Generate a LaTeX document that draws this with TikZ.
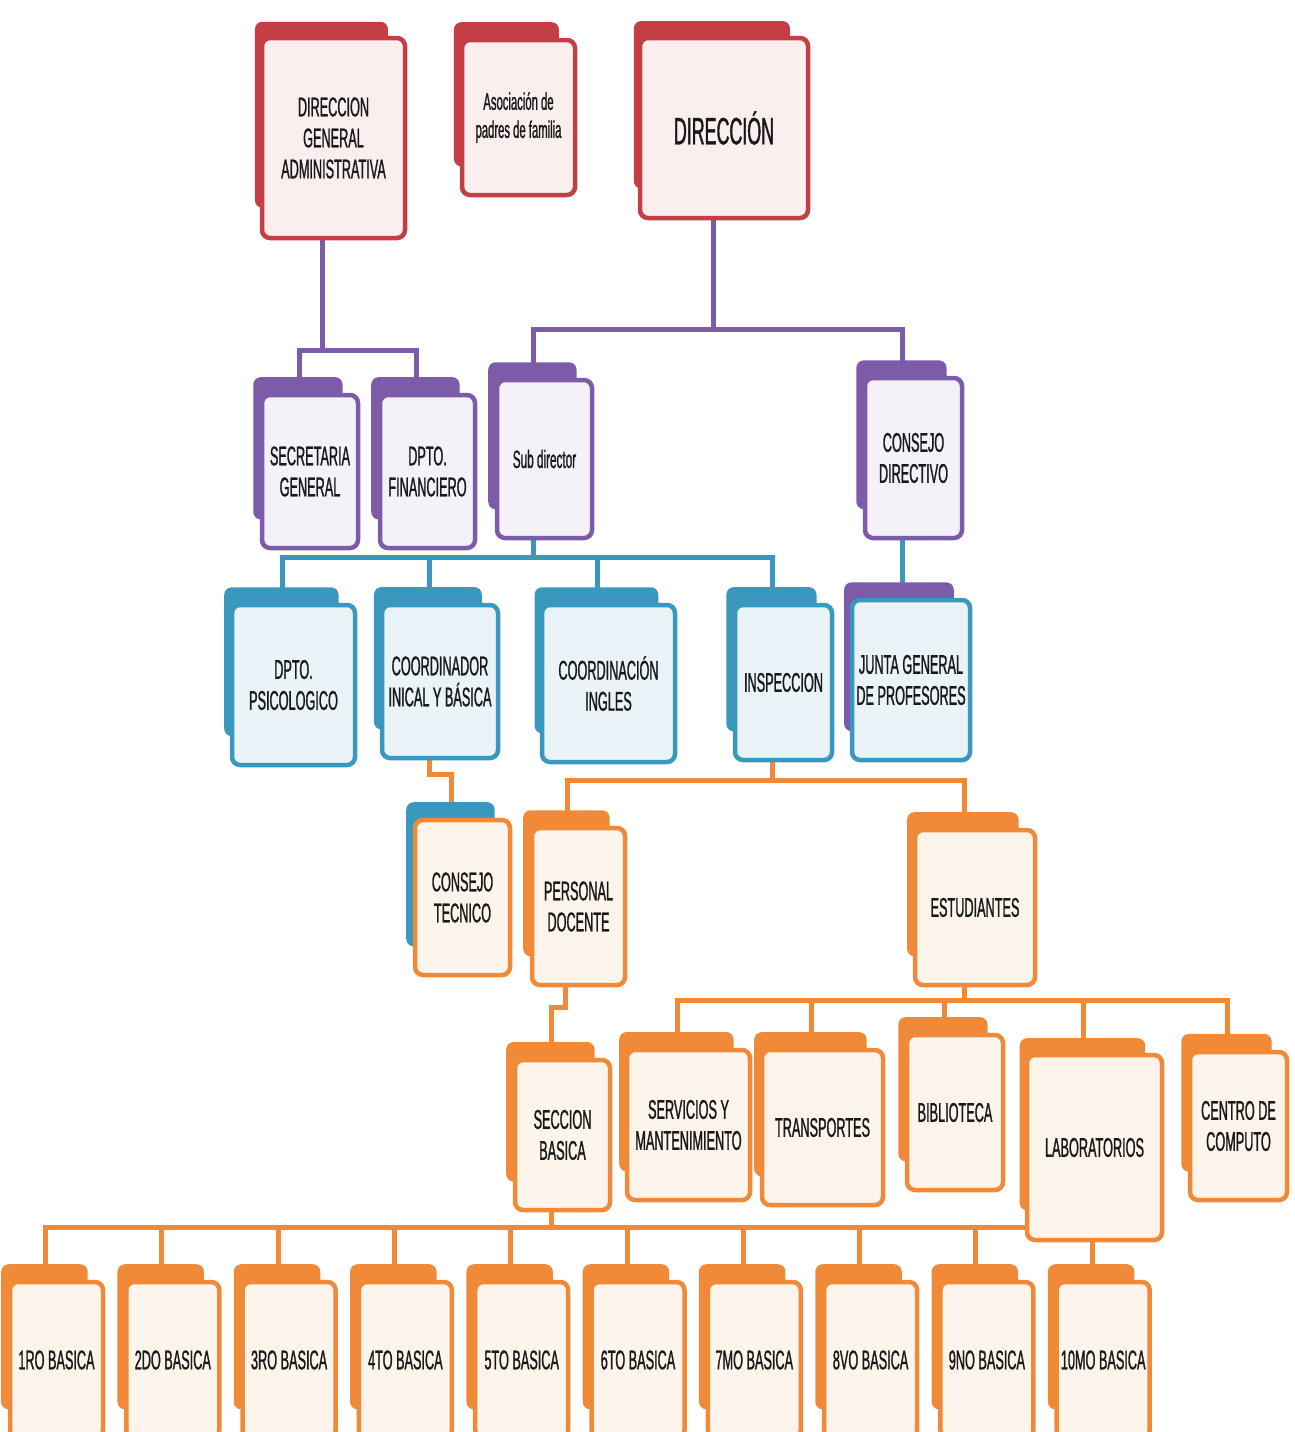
\documentclass[tikz,border=0pt]{standalone}
\usepackage{fontspec}
\newfontfamily\orgfont{Liberation Sans}[FakeStretch=0.47, FakeBold=1]
\usetikzlibrary{shadows}
\pgfdeclarelayer{background}
\pgfsetlayers{background,main}
\definecolor{cRed}{RGB}{196,62,70}
\definecolor{cRedL}{RGB}{251,238,239}
\definecolor{cPurple}{RGB}{124,92,168}
\definecolor{cPurpleL}{RGB}{244,241,248}
\definecolor{cTeal}{RGB}{58,152,190}
\definecolor{cTealL}{RGB}{234,243,248}
\definecolor{cOrange}{RGB}{240,138,56}
\definecolor{cOrangeL}{RGB}{253,244,235}
\tikzset{
  orgbox/.style={rectangle, rounded corners=8pt, line width=4.5pt, align=center,
    inner sep=2pt, text=black!90, font=\orgfont\fontsize{27}{31}\selectfont},
  unit/.style 2 args={orgbox, draw=#1, fill=#1L,
    copy shadow={fill=#2, draw=none, shadow xshift=-13pt, shadow yshift=25pt, shadow scale=0.93}},
  pline/.style={draw=cPurple, line width=5pt},
  tline/.style={draw=cTeal, line width=5pt},
  oline/.style={draw=cOrange, line width=5pt}
}
\begin{document}
\begin{tikzpicture}[x=1pt,y=-1pt]
\useasboundingbox (0,0) rectangle (1295,1432);

% top level
\node[unit={cRed}{cRed}, minimum width=143, minimum height=200] (dga) at (333.5,138) {DIRECCION\\GENERAL\\ADMINISTRATIVA};
\node[unit={cRed}{cRed}, minimum width=113, minimum height=155, font=\orgfont\fontsize{24}{28}\selectfont] (apf) at (518.5,117.5) {Asociación de\\padres de familia};
\node[unit={cRed}{cRed}, minimum width=168, minimum height=180, font=\orgfont\fontsize{38}{42}\selectfont] (dir) at (724,128) {DIRECCIÓN};

% second level
\node[unit={cPurple}{cPurple}, minimum width=96, minimum height=153] (sec) at (310,471.5) {SECRETARIA\\GENERAL};
\node[unit={cPurple}{cPurple}, minimum width=95, minimum height=153] (fin) at (427.5,471.5) {DPTO.\\FINANCIERO};
\node[unit={cPurple}{cPurple}, minimum width=95, minimum height=158, font=\orgfont\fontsize{25}{29}\selectfont] (sub) at (544.5,459) {Sub director};
\node[unit={cPurple}{cPurple}, minimum width=97, minimum height=160] (cdir) at (913.5,458) {CONSEJO\\DIRECTIVO};

% third level
\node[unit={cTeal}{cTeal}, minimum width=123, minimum height=160] (psi) at (293.5,685) {DPTO.\\PSICOLOGICO};
\node[unit={cTeal}{cTeal}, minimum width=116, minimum height=153] (coi) at (440,681.5) {COORDINADOR\\INICAL Y BÁSICA};
\node[unit={cTeal}{cTeal}, minimum width=133, minimum height=157] (ing) at (608.5,683.5) {COORDINACIÓN\\INGLES};
\node[unit={cTeal}{cTeal}, minimum width=97, minimum height=155] (ins) at (783.5,682.5) {INSPECCION};
\node[unit={cTeal}{cPurple}, minimum width=118, minimum height=160] (jun) at (911,680) {JUNTA GENERAL\\DE PROFESORES};

% fourth level
\node[unit={cOrange}{cTeal}, minimum width=95, minimum height=155] (ctec) at (462.5,897.5) {CONSEJO\\TECNICO};
\node[unit={cOrange}{cOrange}, minimum width=93, minimum height=157] (pdoc) at (578.5,906.5) {PERSONAL\\DOCENTE};
\node[unit={cOrange}{cOrange}, minimum width=120, minimum height=155] (est) at (975,907.5) {ESTUDIANTES};

% fifth level
\node[unit={cOrange}{cOrange}, minimum width=95, minimum height=150] (secb) at (562.5,1135) {SECCION\\BASICA};
\node[unit={cOrange}{cOrange}, minimum width=123, minimum height=150] (serv) at (688.5,1125) {SERVICIOS Y\\MANTENIMIENTO};
\node[unit={cOrange}{cOrange}, minimum width=121, minimum height=155] (tra) at (822.5,1127.5) {TRANSPORTES};
\node[unit={cOrange}{cOrange}, minimum width=96, minimum height=155] (bib) at (955,1112.5) {BIBLIOTECA};
\node[unit={cOrange}{cOrange}, minimum width=135, minimum height=185] (lab) at (1094.5,1147.5) {LABORATORIOS};
\node[unit={cOrange}{cOrange}, minimum width=97, minimum height=148] (cc) at (1238.5,1126) {CENTRO DE\\COMPUTO};

% grades
\foreach \lbl [count=\i from 0] in {1RO,2DO,3RO,4TO,5TO,6TO,7MO,8VO,9NO,10MO}
  \node[unit={cOrange}{cOrange}, minimum width=93, minimum height=156] (g\i) at ({56.5+116.3*\i},1360) {\lbl\ BASICA};

\begin{pgfonlayer}{background}
% purple lines
\draw[pline] ([xshift=-11pt]dga.south) -- ++(0,110) coordinate (dgabus);
\draw[pline] ([xshift=-11pt]sec.north) |- (dgabus) -| ([xshift=-11pt]fin.north);
\draw[pline] ([xshift=-11pt]dir.south) -- ++(0,109) coordinate (dirbus);
\draw[pline] ([xshift=-11pt]sub.north) |- (dirbus) -| ([xshift=-11pt]cdir.north);
% teal lines
\draw[tline] ([xshift=-11pt]sub.south) -- ++(0,17) coordinate (subbus);
\foreach \n in {psi,coi,ing,ins}
  \draw[tline] ([xshift=-11pt]\n.north) |- (subbus);
\draw[tline] ([xshift=-11pt]cdir.south) -- ([xshift=-11pt]cdir.south |- jun.north);
% orange lines
\draw[oline] ([xshift=-11pt]ins.south) -- ++(0,18) coordinate (insbus);
\draw[oline] ([xshift=-11pt]pdoc.north) |- (insbus) -| ([xshift=-11pt]est.north);
\draw[oline] ([xshift=-11pt]coi.south) -- ++(0,14) -| ([xshift=-11pt]ctec.north);
\draw[oline] ([xshift=-11pt]est.south) -- ++(0,13) coordinate (estbus);
\foreach \n in {serv,tra,bib,lab,cc}
  \draw[oline] ([xshift=-11pt]\n.north) |- (estbus);
\draw[oline] ([xshift=-13pt]pdoc.south) -- ++(0,20) -| ([xshift=-11pt]secb.north);
\draw[oline] ([xshift=-11pt]secb.south) -- ++(0,15) coordinate (secbus);
\foreach \i in {0,...,9}
  \draw[oline] ([xshift=-11pt]g\i.north) |- (secbus);
\end{pgfonlayer}
\end{tikzpicture}
\end{document}
